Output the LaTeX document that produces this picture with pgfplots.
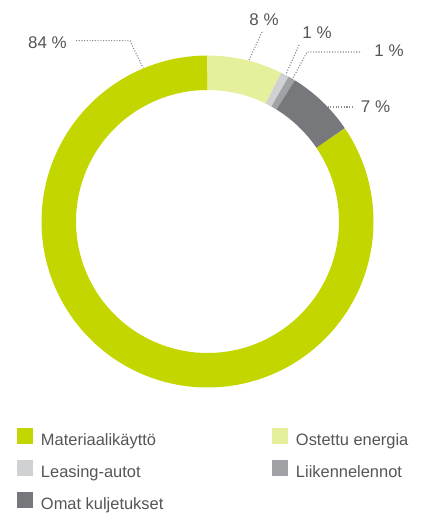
\documentclass[border=0pt]{standalone}
\usepackage{pgfplots}
\pgfplotsset{compat=1.18}
\usepackage{fontspec}
\setmainfont{Liberation Sans}
\definecolor{cMat}{HTML}{C3D600}
\definecolor{cOst}{HTML}{E6F09C}
\definecolor{cLea}{HTML}{D0D1D3}
\definecolor{cLii}{HTML}{A1A2A6}
\definecolor{cOma}{HTML}{77787C}
\definecolor{txt}{HTML}{555555}
\definecolor{lead}{HTML}{8C8C8C}
% shares in percent (clockwise from top)
\def\vOst{7.3}
\def\vLea{0.8}
\def\vLii{0.7}
\def\vOma{6.7}
\def\vMat{84.5}
\pgfmathsetmacro\aA{90}
\pgfmathsetmacro\aB{\aA-3.6*\vOst}
\pgfmathsetmacro\aC{\aB-3.6*\vLea}
\pgfmathsetmacro\aD{\aC-3.6*\vLii}
\pgfmathsetmacro\aE{\aD-3.6*\vOma}
\pgfmathsetmacro\aF{\aE-3.6*\vMat}
\def\cx{207.5}
\def\cy{221.5}
\def\rr{148.75}
\newcommand\lent[1]{\makebox[125bp][l]{\rule[-4bp]{0pt}{19.5bp}#1}}
\pgfplotsset{sq/.style={legend image code/.code={\path[fill=#1, draw=none, line width=0pt] (0bp,-5.5bp) rectangle (16bp,10.5bp);}}}
\begin{document}
\begin{tikzpicture}
\begin{axis}[
  width=427bp, height=514bp, scale only axis,
  xmin=0, xmax=427, ymin=0, ymax=514, y dir=reverse,
  hide axis, clip=false,
  legend columns=2,
  legend style={at={(axis cs:17,427.5)}, anchor=north west, draw=none, fill=none,
    inner sep=0pt, outer sep=0pt,
    font=\fontsize{16.5}{19}\selectfont\color{txt},
    row sep=11.5bp,
    /tikz/every odd column/.append style={column sep=6bp},
    /tikz/every even column/.append style={column sep=104bp},
  },
  legend cell align=left,
]
\addplot[draw=cMat, line width=34.5bp, domain=\aF:\aE, samples=240, variable=\t, sq=cMat]
  ({\cx+\rr*cos(t)},{\cy-\rr*sin(t)});
\addlegendentry{\lent{Materiaalikäyttö}}
\addplot[draw=cOst, line width=34.5bp, domain=\aB:\aA, samples=40, variable=\t, sq=cOst]
  ({\cx+\rr*cos(t)},{\cy-\rr*sin(t)});
\addlegendentry{\lent{Ostettu energia}}
\addplot[draw=cLea, line width=34.5bp, domain=\aC:\aB, samples=8, variable=\t, sq=cLea]
  ({\cx+\rr*cos(t)},{\cy-\rr*sin(t)});
\addlegendentry{\lent{Leasing-autot}}
\addplot[draw=cLii, line width=34.5bp, domain=\aD:\aC, samples=8, variable=\t, sq=cLii]
  ({\cx+\rr*cos(t)},{\cy-\rr*sin(t)});
\addlegendentry{\lent{Liikennelennot}}
\addplot[draw=cOma, line width=34.5bp, domain=\aE:\aD, samples=40, variable=\t, sq=cOma]
  ({\cx+\rr*cos(t)},{\cy-\rr*sin(t)});
\addlegendentry{\lent{Omat kuljetukset}}
% leader lines
\pgfplotsset{leader/.style={forget plot, draw=lead, line width=1.1bp, dash pattern=on 1.1bp off 1.6bp}}
\addplot[leader] coordinates {(76,40.7) (130,40.7) (143,68)};
\addplot[leader] coordinates {(262,32) (249,60)};
\addplot[leader] coordinates {(299,45) (286,74)};
\addplot[leader] coordinates {(360,52) (307,52) (292,80)};
\addplot[leader] coordinates {(327.5,107) (353,107)};
% labels
\begin{scope}[every node/.style={font=\fontsize{17}{20}\selectfont, text=txt, inner sep=0pt}]
\node[anchor=east] at (axis cs:67,42.5) {84 \%};
\node at (axis cs:264,20) {8 \%};
\node at (axis cs:317,33) {1 \%};
\node at (axis cs:389,51) {1 \%};
\node at (axis cs:375.5,107) {7 \%};
\end{scope}
\path (axis cs:0,0) rectangle (axis cs:427,514);
\end{axis}
\end{tikzpicture}
\end{document}
